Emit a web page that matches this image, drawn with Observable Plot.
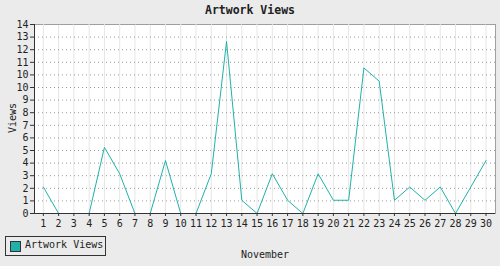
<!DOCTYPE html>
<html>
<head>
<meta charset="utf-8">
<script src="https://cdn.jsdelivr.net/npm/d3@7"></script>
<script src="https://cdn.jsdelivr.net/npm/@observablehq/plot@0.6"></script>
<style>
  html, body { margin: 0; padding: 0; background: #ebebeb; }
  #wrap { position: relative; width: 500px; height: 266px; background: #ebebeb; overflow: hidden;
          font-family: "DejaVu Sans Mono", "Liberation Mono", monospace; color: #222; }
  #chart { position: absolute; left: 0; top: 0; }
  .title { position: absolute; left: 0; width: 500px; top: 3px; text-align: center; font-weight: bold; font-size: 11.5px; }
  .xlabel { position: absolute; left: 215px; width: 100px; top: 249px; text-align: center; font-size: 10px; }
  .ylabel { position: absolute; left: 12px; top: 118px; font-size: 10px; transform: translate(-50%, -50%) rotate(-90deg); white-space: nowrap; }
  .legend { position: absolute; left: 5px; top: 236px; width: 99px; height: 18px; border: 1px solid #333; box-sizing: content-box; }
  .legend .sw { position: absolute; left: 4px; top: 4px; width: 9px; height: 9px; background: #20b2aa; border: 1px solid #333; }
  .legend .tx { position: absolute; left: 19px; top: 2px; font-size: 10px; }
</style>
</head>
<body>
<div id="wrap">
  <div id="chart"></div>
  <div class="title">Artwork Views</div>
  <div class="ylabel">Views</div>
  <div class="xlabel">November</div>
  <div class="legend"><div class="sw"></div><div class="tx">Artwork Views</div></div>
</div>
<script>
const seriesName = "Artwork Views";
const days = d3.range(1, 31);
const views = [2,0,0,0,5,3,0,0,4,0,0,3,13,1,0,3,1,0,3,1,1,11,10,1,2,1,2,0,2,4];
const yTickLabels = ["0","1","2","3","4","5","6","7","8","9","10","10","11","12","13","14"];
const yStep = 0.952;

const data = days.map((d, i) => ({day: d, views: views[i]}));
const yTicks = yTickLabels.map((_, k) => k * yStep);
const yMax = yTicks[yTicks.length - 1];

const chart = Plot.plot({
  width: 500,
  height: 266,
  marginLeft: 34,
  marginRight: 5,
  marginTop: 24,
  marginBottom: 53,
  style: { background: "transparent", fontFamily: "'DejaVu Sans Mono', monospace", fontSize: "10px", color: "#222" },
  x: { domain: [0.42, 30.62], label: null },
  y: { domain: [0, yMax], label: null },
  marks: [
    Plot.frame({ fill: "white", stroke: "#a0a0a0" }),
    Plot.gridX(days, { stroke: "#e6e6e6", strokeOpacity: 1, strokeWidth: 1 }),
    Plot.gridY(yTicks.slice(1), { stroke: "#999", strokeOpacity: 1, strokeDasharray: "1,3" }),
    Plot.line(data, { x: "day", y: "views", stroke: "#20b2aa", strokeWidth: 1 }),
    Plot.ruleX([0.42], { stroke: "#333" }),
    Plot.ruleY([0], { stroke: "#333" }),
    Plot.axisY(yTicks, { tickFormat: (d, i) => yTickLabels[i], tickSize: 4, tickPadding: 2, stroke: "#333", fill: "#222", label: null }),
    Plot.axisX(days, { tickSize: 3, tickPadding: 3, stroke: "#333", fill: "#222", label: null })
  ]
});
document.getElementById("chart").appendChild(chart);
</script>
</body>
</html>
